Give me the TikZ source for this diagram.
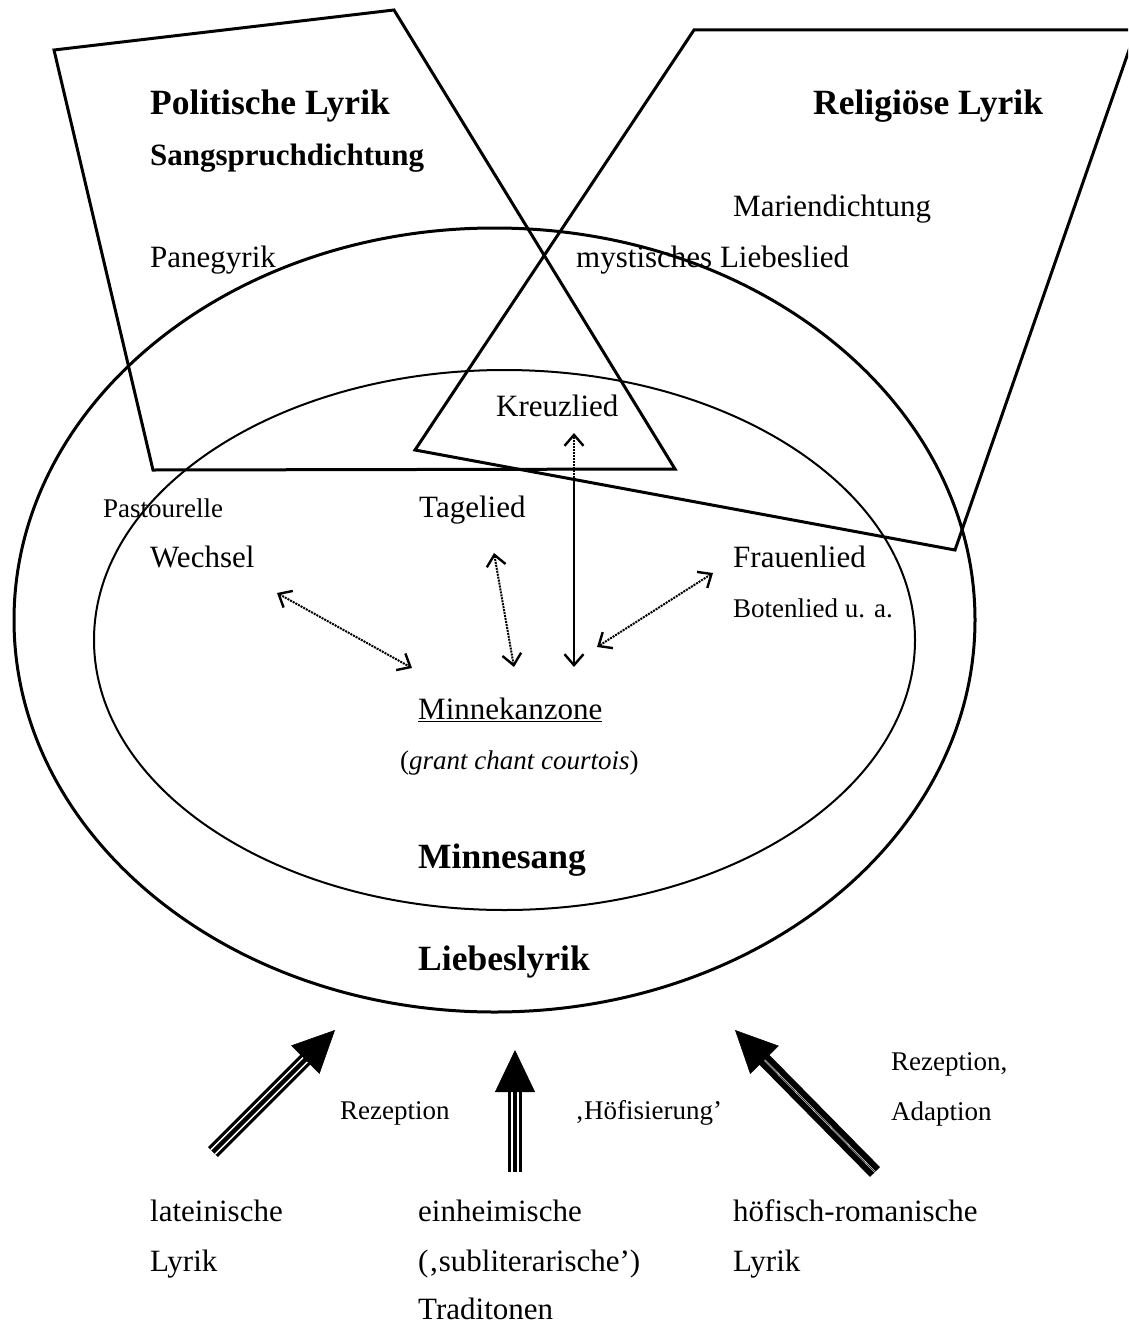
\documentclass[tikz,border=0pt]{standalone}
\usepackage{fontspec}
\setmainfont{Liberation Serif}
\usetikzlibrary{arrows.meta}
\newcommand\FontBig{\fontsize{35.5pt}{40pt}\selectfont\bfseries}
\newcommand\FontSub{\fontsize{31pt}{36pt}\selectfont\bfseries}
\newcommand\FontMid{\fontsize{31pt}{36pt}\selectfont}
\newcommand\FontSmall{\fontsize{27pt}{31pt}\selectfont}
\begin{document}
\begin{tikzpicture}[x=1pt,y=-1pt,
  frame/.style={line width=3pt, line join=miter},
  outerell/.style={line width=3pt},
  innerell/.style={line width=2pt},
  txt/.style={anchor=base west, inner sep=0pt, font=\FontMid},
  head/.style={anchor=base west, inner sep=0pt, font=\FontBig},
  subhead/.style={anchor=base west, inner sep=0pt, font=\FontSub},
  small/.style={anchor=base west, inner sep=0pt, font=\FontSmall},
  barb/.tip={Straight Barb[length=11pt,width=19pt,line width=2.4pt]},
  dotarrow/.style={line width=2pt, densely dotted, barb-barb},
  halfdot/.style={line width=2pt, densely dotted, -barb},
  halfsolid/.style={line width=2.2pt, -barb},
  bigtip/.style={line width=0.5pt, -{Triangle[length=42pt,width=40pt]}},
  shaftA/.style={line width=14pt, shorten >=38pt},
  shaftB/.style={white, line width=7.5pt, shorten >=38pt},
  shaftC/.style={line width=4.5pt, shorten >=38pt},
  shaftD/.style={white, line width=1.6pt, shorten >=38pt}
]
\useasboundingbox (0,0) rectangle (1128,1327);
\clip (0,0) rectangle (1128,1327);

% ellipses
\draw[outerell] (494.5,620) ellipse [x radius=480.5, y radius=392];
\draw[innerell] (504.5,640) ellipse [x radius=410.5, y radius=270];

% quadrilaterals
\draw[frame] (54,50) -- (394,10) -- (675,469) -- (153,470) -- cycle;
\draw[frame] (694,30) -- (1136,30) -- (955,550) -- (415,450) -- cycle;

% texts
\node[head] (pol) at (150,115) {Politische Lyrik};
\node[subhead] (sang) at (150,165) {Sangspruchdichtung};
\node[head] (rel) at (813,115) {Religiöse Lyrik};
\node[txt] (mar) at (733,216) {Mariendichtung};
\node[txt] (pan) at (150,267) {Panegyrik};
\node[txt] (mys) at (576,267) {mystisches Liebeslied};
\node[txt] (kreuz) at (496,416) {Kreuzlied};
\node[small] (past) at (103,517) {Pastourelle};
\node[txt] (tage) at (419,517) {Tagelied};
\node[txt] (wech) at (150,567) {Wechsel};
\node[txt] (frau) at (733,567) {Frauenlied};
\node[small] (bote) at (733,617) {Botenlied u. a.};
\node[txt] (minnek) at (418,719) {\underline{Minnekanzone}};
\node[small] (grant) at (400,769) {(\textit{grant chant courtois})};
\node[head] (minnes) at (418,868) {Minnesang};
\node[head] (liebes) at (418,970) {Liebeslyrik};
\node[small] (rez1) at (340,1119) {Rezeption};
\node[small] (hoef) at (575,1119) {‚Höfisierung’};
\node[small] (rez2) at (891,1070) {Rezeption,};
\node[small] (adap) at (891,1120) {Adaption};
\node[txt] (lat1) at (150,1221) {lateinische};
\node[txt] (lat2) at (150,1271) {Lyrik};
\node[txt] (ein1) at (418,1221) {einheimische};
\node[txt] (ein2) at (418,1271) {(‚subliterarische’)};
\node[txt] (ein3) at (418,1319) {Traditonen};
\node[txt] (hof1) at (733,1221) {höfisch-romanische};
\node[txt] (hof2) at (733,1271) {Lyrik};

% dotted double arrows
\coordinate (wA) at (277,593);
\coordinate (wB) at (412,668);
\coordinate (tA) at (494,553);
\coordinate (tB) at (514,667);
\coordinate (fA) at (713,573);
\coordinate (fB) at (597,647);
\coordinate (kTop) at (574,433);
\coordinate (kMid) at (574,478);
\coordinate (kBot) at (574,667);
\draw[dotarrow] (wA) -- (wB);
\draw[dotarrow] (tA) -- (tB);
\draw[dotarrow] (fA) -- (fB);
\draw[halfdot] (kMid) -- (kTop);
\draw[halfsolid] (kMid) -- (kBot);

% thick arrows
\coordinate (T1) at (213,1152);
\coordinate (H1) at (335,1030);
\coordinate (T2) at (515,1172);
\coordinate (H2) at (515,1050);
\coordinate (T3) at (875,1172);
\coordinate (H3) at (735,1030);
\draw[shaftA] (T1) -- (H1);
\draw[shaftB] (T1) -- (H1);
\draw[shaftC] (T1) -- (H1);
\draw[bigtip] (T1) -- (H1);
\draw[shaftA] (T2) -- (H2);
\draw[shaftB] (T2) -- (H2);
\draw[shaftC] (T2) -- (H2);
\draw[bigtip] (T2) -- (H2);
\draw[shaftA] (T3) -- (H3);
\draw[shaftD] (T3) -- (H3);
\draw[bigtip] (T3) -- (H3);
\end{tikzpicture}
\end{document}
